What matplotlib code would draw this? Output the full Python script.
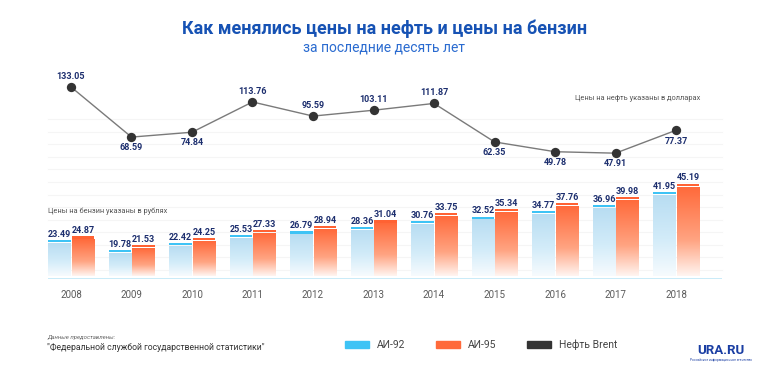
import numpy as np
import matplotlib
matplotlib.use('Agg')
import matplotlib.pyplot as plt
from matplotlib.colors import LinearSegmentedColormap
from matplotlib.patches import Patch

plt.rcParams['font.family'] = ['Roboto', 'DejaVu Sans']

years = ['2008', '2009', '2010', '2011', '2012', '2013',
         '2014', '2015', '2016', '2017', '2018']
ai92 = [23.49, 19.78, 22.42, 25.53, 26.79, 28.36, 30.76, 32.52, 34.77, 36.96, 41.95]
ai95 = [24.87, 21.53, 24.25, 27.33, 28.94, 31.04, 33.75, 35.34, 37.76, 39.98, 45.19]
brent = [133.05, 68.59, 74.84, 113.76, 95.59, 103.11, 111.87, 62.35, 49.78, 47.91, 77.37]
brent_label_up = [True, False, False, True, True, True, True, False, False, False, False]

NAVY = '#1c2e6e'
BLUE_CAP = '#3ec3f5'
ORANGE_CAP = '#ff6233'
W, H = 760, 373


def fx(px):
    return px / W


def fy(px):
    return 1 - px / H


fig = plt.figure(figsize=(7.6, 3.73), dpi=100)
fig.patch.set_facecolor('white')

# faint horizontal rules behind everything
bg = fig.add_axes([fx(48), fy(270), fx(674), (270 - 119) / H])
bg.set_xlim(0, 1)
bg.set_ylim(0, 12)
for k in range(13):
    bg.axhline(k, color='#f5f5f5', lw=0.8, clip_on=False)
bg.axis('off')

x = np.arange(len(years))
xlim = (-0.38, 10.76)

# --- Brent line ---
oil = fig.add_axes([fx(48), fy(172), fx(674), 105 / H])
oil.plot(x, brent, color='#7a7a7a', lw=1.0, zorder=2)
oil.scatter(x, brent, s=45, color='#333333', zorder=3, linewidths=0)
for xi, v, up in zip(x, brent, brent_label_up):
    oil.annotate(f'{v:.2f}', (xi, v), xytext=(0, 4.5 if up else -4.5),
                 textcoords='offset points', ha='center',
                 va='bottom' if up else 'top', fontsize=6.5,
                 fontweight='bold', color=NAVY)
oil.set_xlim(*xlim)
oil.set_ylim(23.7, 158.7)
oil.axis('off')

# --- petrol bars ---
bars = fig.add_axes([fx(48), fy(279), fx(674), 99 / H])
ybase = 8.5
bw = 0.37
cap = 0.8
gap = 0.45

blue_cmap = LinearSegmentedColormap.from_list(
    'b', [(0, '#f7fbfe'), (0.45, '#d3ecf9'), (1, '#b8ddf2')])
orange_cmap = LinearSegmentedColormap.from_list(
    'o', [(0, '#fff5f1'), (0.4, '#ffa482'), (1, '#ff6a3b')])
grad = np.linspace(0, 1, 128).reshape(-1, 1)


def gradient_bar(ax, xc, v, cmap, capcolor):
    ax.imshow(grad, cmap=cmap, origin='lower', aspect='auto',
              extent=[xc - bw / 2, xc + bw / 2, ybase + 1.2, v - cap - gap],
              interpolation='bicubic', zorder=2)
    ax.bar(xc, cap, bottom=v - cap, width=bw, color=capcolor, zorder=3,
           linewidth=0)
    ax.text(xc, v + 0.45, f'{v:.2f}', ha='center', va='bottom', fontsize=6.5,
            fontweight='bold', color=NAVY)


for xi, v92, v95 in zip(x, ai92, ai95):
    gradient_bar(bars, xi - 0.19, v92, blue_cmap, BLUE_CAP)
    gradient_bar(bars, xi + 0.2, v95, orange_cmap, ORANGE_CAP)

bars.axhline(ybase, color='#c4e9f8', lw=2, zorder=4)
bars.set_xlim(*xlim)
bars.set_ylim(ybase, 46.6)
bars.set_xticks(x, years)
bars.tick_params(axis='x', length=0, pad=8, labelsize=7, labelcolor='#5a5a5a')
bars.set_yticks([])
for s in bars.spines.values():
    s.set_visible(False)
bars.patch.set_alpha(0)

# --- texts ---
fig.text(fx(385), fy(29), 'Как менялись цены на нефть и цены на бензин',
         ha='center', va='center', fontsize=13, fontweight='bold',
         color='#1652b4')
fig.text(fx(384), fy(47), 'за последние десять лет', ha='center', va='center',
         fontsize=10, color='#2a6bd0')
fig.text(fx(575), fy(99), 'Цены на нефть указаны в долларах', ha='left',
         va='center', fontsize=5.3, color='#555555')
fig.text(fx(48), fy(211), 'Цены на бензин указаны в рублях', ha='left',
         va='center', fontsize=5.3, color='#555555')
fig.text(fx(47), fy(337.5), 'Данные предоставлены:', ha='left', va='center',
         fontsize=4.3, style='italic', color='#666666')
fig.text(fx(47), fy(347), '"Федеральной службой государственной статистики"',
         ha='left', va='center', fontsize=6.2, color='#333333')

handles = [Patch(color=BLUE_CAP, label='АИ-92'),
           Patch(color='#ff6a3b', label='АИ-95'),
           Patch(color='#333333', label='Нефть Brent')]
fig.legend(handles=handles, loc='center left', bbox_to_anchor=(fx(345), fy(345)),
           ncol=3, frameon=False, fontsize=7.5, handlelength=2.3,
           handleheight=0.6, handletextpad=0.8, columnspacing=2.9,
           borderpad=0, borderaxespad=0, labelcolor='#444444')

fig.text(fx(721), fy(351), 'URA.RU', ha='center', va='center', fontsize=9.5,
         fontweight='bold', color='#1a3ea3')
fig.text(fx(721), fy(360.5), 'Российское информационное агентство', ha='center',
         va='center', fontsize=2.3, color='#1a3ea3')

fig.savefig('out.png', dpi=100, facecolor='white')
